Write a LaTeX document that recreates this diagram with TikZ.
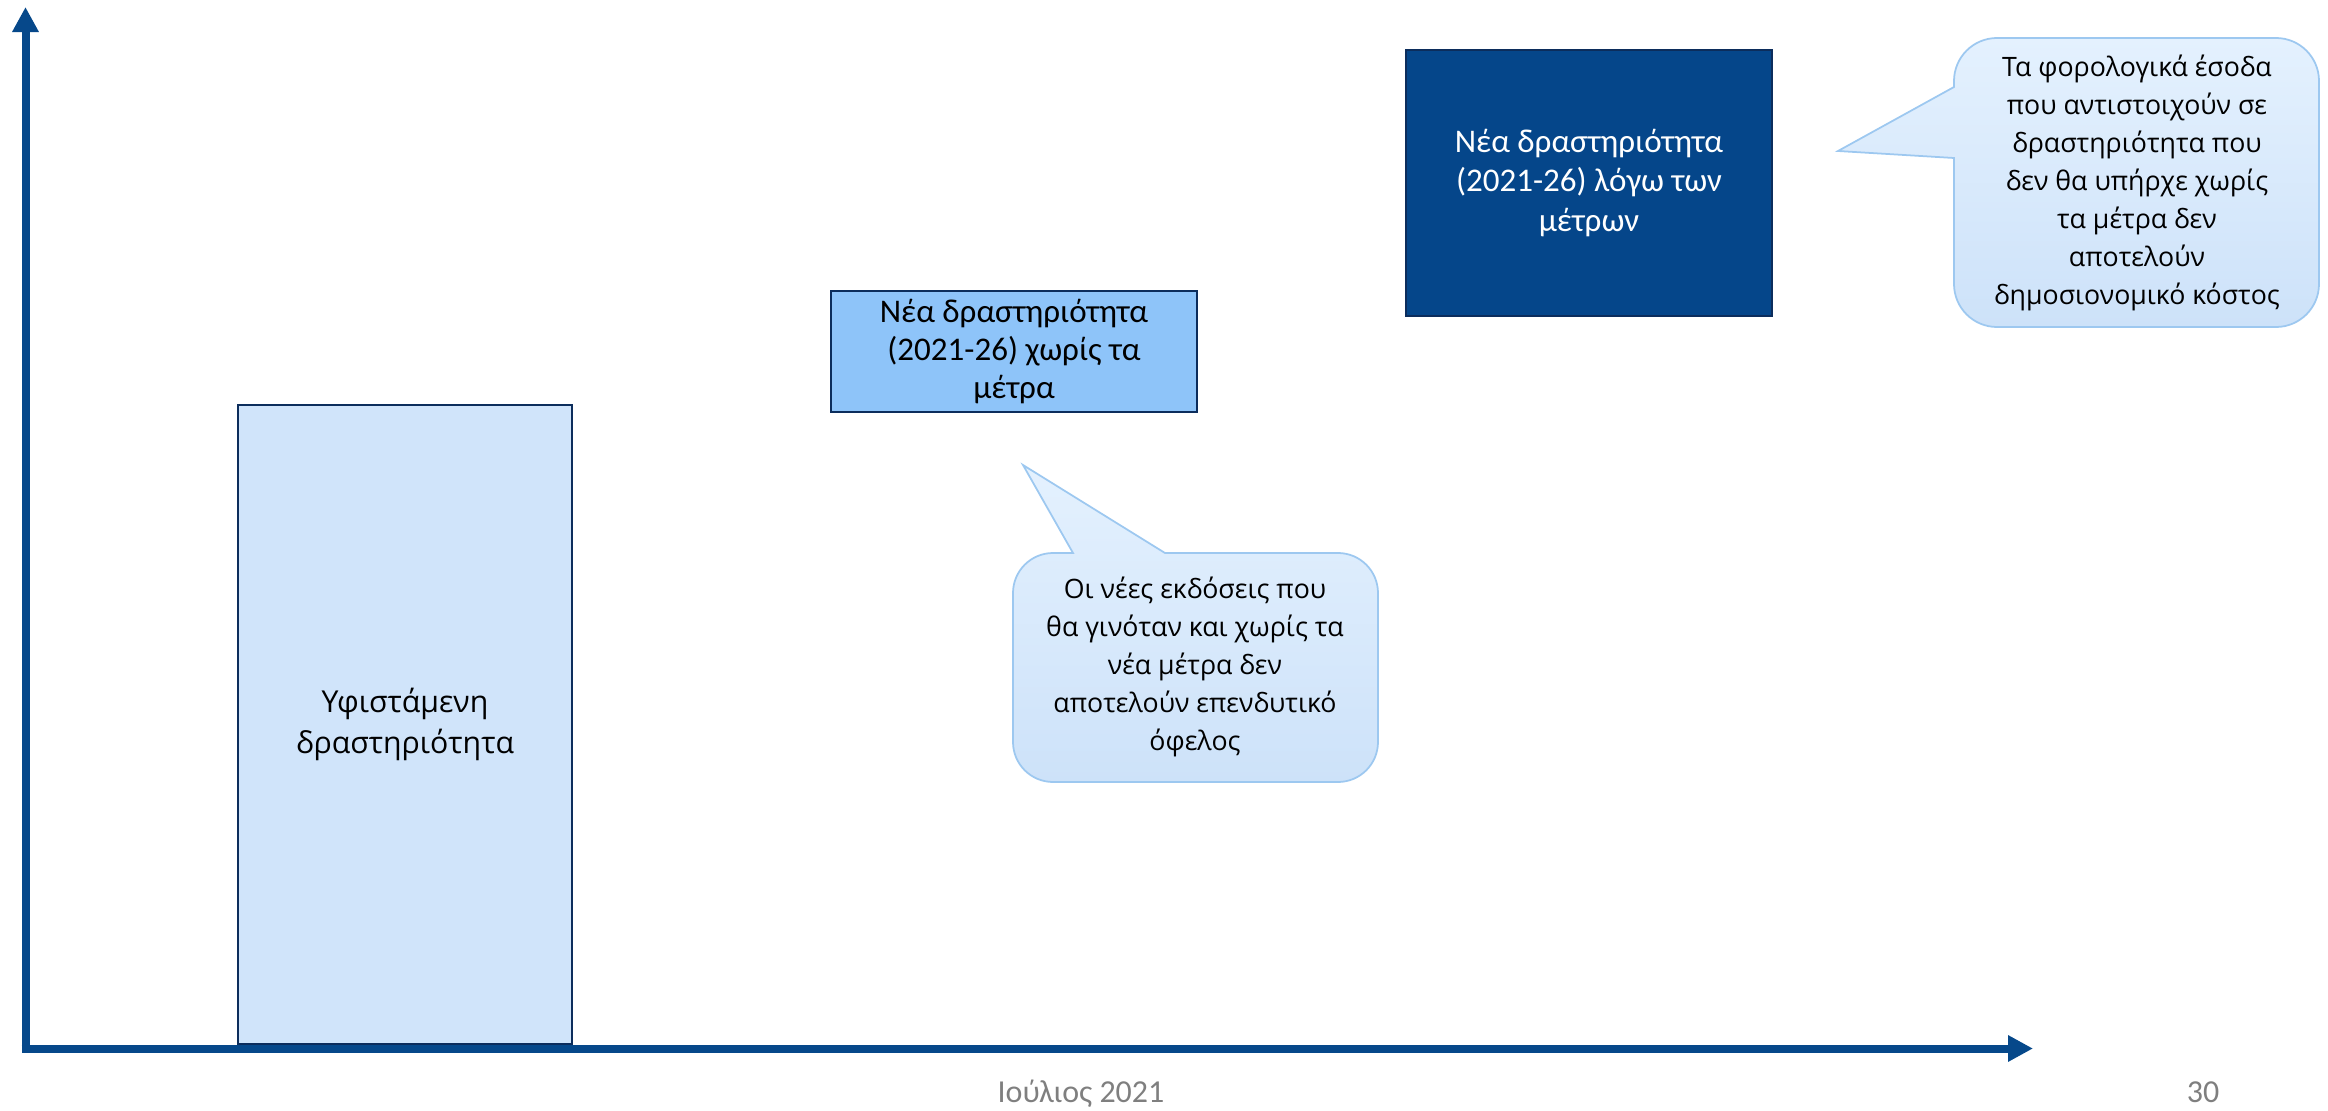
\documentclass[tikz,border=0pt]{standalone}
\usepackage{fontspec}
\setmainfont{Carlito}
\newfontfamily\opensans{Open Sans}
\usetikzlibrary{positioning, shapes, arrows.meta}

\definecolor{axisblue}{RGB}{6,72,138}
\definecolor{navyline}{RGB}{12,45,92}
\definecolor{paleblue}{RGB}{208,228,250}
\definecolor{midblue}{RGB}{142,196,249}
\definecolor{deepblue}{RGB}{5,70,138}
\definecolor{calloutline}{RGB}{157,200,240}
\definecolor{callouttop}{RGB}{228,241,254}
\definecolor{calloutbottom}{RGB}{205,226,249}
\definecolor{footgray}{RGB}{127,127,127}

\tikzset{
  axis/.style={axisblue,line width=0.08cm,-{Triangle[length=0.25cm,width=0.25cm]}},
  bar/.style={draw=navyline,line width=0.7pt,align=center,inner sep=0pt},
  bubble/.style={draw=calloutline,line width=0.5pt,top color=callouttop,bottom color=calloutbottom},
  bubbletext/.style={align=center,font=\opensans\fontsize{7.6}{10.8}\selectfont},
  foot/.style={footgray,anchor=base,font=\fontsize{9.1}{11}\selectfont}
}

\begin{document}
\begin{tikzpicture}
    \useasboundingbox (0,0) rectangle (23.28,11.10);
    \coordinate (origin) at (0.255,0.615);
    \coordinate (ytip) at (0.255,11.03);
    \coordinate (xtip) at (20.33,0.615);
    \draw[axis] ([yshift=-0.04cm]origin) -- (ytip); %y axis
    \draw[axis] ([xshift=-0.04cm]origin) -- (xtip); %x axis

    \node[bar,fill=paleblue,minimum width=3.34cm,minimum height=6.39cm,font=\opensans\fontsize{8.6}{11.8}\selectfont] (existing) at (4.05,3.855) {Υφιστάμενη\\δραστηριότητα};
    \node[bar,fill=midblue,minimum width=3.66cm,minimum height=1.21cm,font=\fontsize{9.4}{10.8}\selectfont] (without) at (10.14,7.585) {Νέα δραστηριότητα\\(2021-26) χωρίς τα\\μέτρα};
    \node[bar,fill=deepblue,text=white,minimum width=3.66cm,minimum height=2.66cm,font=\fontsize{9.4}{11.2}\selectfont] (measures) at (15.89,9.27) {Νέα δραστηριότητα\\(2021-26) λόγω των\\μέτρων};

    % callout right
    \draw[bubble] (19.54,9.0) [rounded corners=0.43cm] -- (19.54,7.83) -- (23.19,7.83) -- (23.19,10.72) -- (19.54,10.72) [sharp corners] -- (19.54,10.23) -- (18.38,9.59) -- (19.54,9.52) -- cycle;
    \node[bubbletext] (revenue) at (21.37,9.27) {Τα φορολογικά έσοδα\\που αντιστοιχούν σε\\δραστηριότητα που\\δεν θα υπήρχε χωρίς\\τα μέτρα δεν\\αποτελούν\\δημοσιονομικό κόστος};

    % callout middle
    \draw[bubble] (12.5,5.57) [rounded corners=0.4cm] -- (13.78,5.57) -- (13.78,3.28) -- (10.13,3.28) -- (10.13,5.57) [sharp corners] -- (10.73,5.57) -- (10.23,6.45) -- (11.65,5.57) -- cycle;
    \node[bubbletext] (issues) at (11.95,4.43) {Οι νέες εκδόσεις που\\θα γινόταν και χωρίς τα\\νέα μέτρα δεν\\αποτελούν επενδυτικό\\όφελος};

    \node[foot] (date) at (10.81,0.08) {Ιούλιος 2021};
    \node[foot] (page) at (22.03,0.08) {30};
\end{tikzpicture}
\end{document}
